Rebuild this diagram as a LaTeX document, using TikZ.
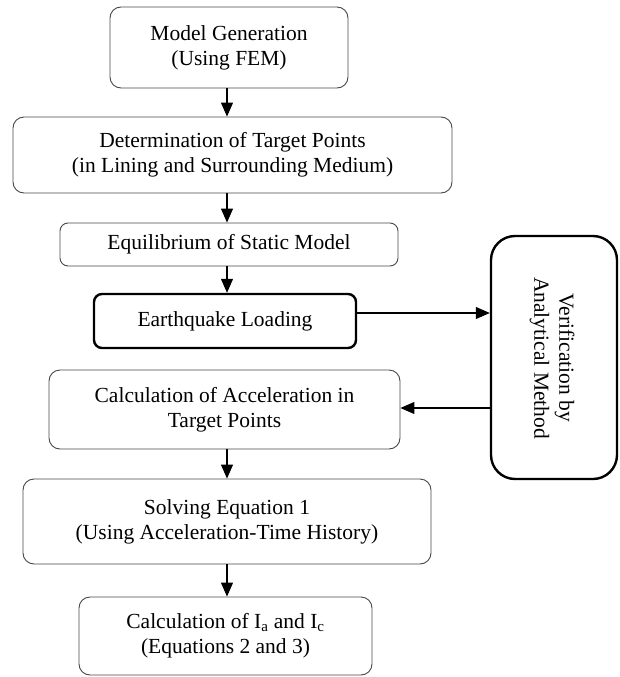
\documentclass[tikz,border=0pt]{standalone}
\usepackage{fontspec}
\setmainfont{Liberation Serif}
\usetikzlibrary{arrows.meta}
\begin{document}
\begin{tikzpicture}[x=1pt,y=-1pt,
  box/.style={draw=black!72, line width=0.9pt, rounded corners=11pt, align=center,
    font=\fontsize{21.5}{25}\selectfont, inner sep=0pt},
  thickbox/.style={box, draw=black, line width=2.4pt},
  lbl/.style={align=center, font=\fontsize{21.5}{25}\selectfont, inner sep=0pt},
  arr/.style={-{Triangle[length=14pt,width=12pt]}, line width=1.1pt}]
\useasboundingbox (0,0) rectangle (619,677);
\coordinate (ax) at (227,0);
\node[box, minimum width=238pt, minimum height=81pt] (b1) at (229,47.5) {Model Generation\\(Using FEM)};
\node[box, minimum width=439pt, minimum height=76pt] (b2) at (232.5,155) {Determination of Target Points\\(in Lining and Surrounding Medium)};
\node[box, minimum width=338pt, minimum height=43pt, rounded corners=8pt] (b3) at (229,244.5) {Equilibrium of Static Model};
\node[thickbox, minimum width=262pt, minimum height=54pt, rounded corners=8pt] (b4) at (225,321) {Earthquake Loading};
\node[box, minimum width=351pt, minimum height=79pt] (b5) at (224.5,409.5) {Calculation of Acceleration in\\Target Points};
\node[box, minimum width=408pt, minimum height=85pt] (b6) at (227,521.5) {Solving Equation 1\\(Using Acceleration-Time History)};
\node[box, minimum width=293pt, minimum height=78pt] (b7) at (225.5,636) {Calculation of I\textsubscript{a} and I\textsubscript{c}\\(Equations 2 and 3)};
\node[thickbox, minimum width=126pt, minimum height=243pt, rounded corners=24pt] (v) at (554,357.5) {};
\node[lbl, rotate=-90] (vt) at (552,358) {Verification by\\Analytical Method};
\draw[arr] (b1.south -| ax) -- (b2.north -| ax);
\draw[arr] (b2.south -| ax) -- (b3.north -| ax);
\draw[arr] (b3.south -| ax) -- (b4.north -| ax);
\draw[arr] (b5.south -| ax) -- (b6.north -| ax);
\draw[arr] (b6.south -| ax) -- (b7.north -| ax);
\draw[arr] ([yshift=8pt]b4.east) -- ([yshift=8pt]b4.east -| v.west);
\draw[arr] ([yshift=1.5pt]b5.east -| v.west) -- ([yshift=1.5pt]b5.east);
\end{tikzpicture}
\end{document}
